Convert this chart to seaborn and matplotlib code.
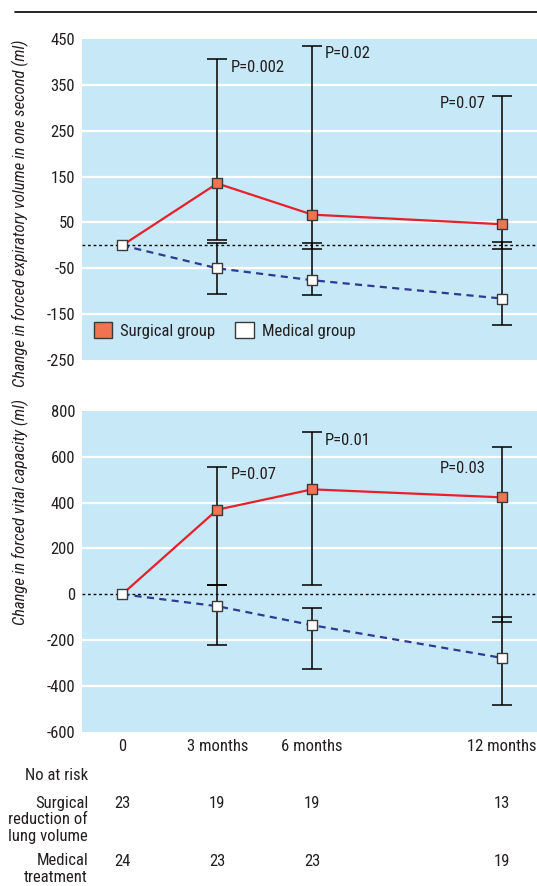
import numpy as np
import pandas as pd
import matplotlib
matplotlib.use("Agg")
import matplotlib.pyplot as plt
import matplotlib.transforms as mtransforms
from matplotlib.lines import Line2D
from matplotlib.patches import Patch
from matplotlib import font_manager as fm
import seaborn as sns

# ---------------- data ----------------
months = [0, 3, 6, 12]
tick_labels = ["0", "3 months", "6 months", "12 months"]

fev_surg = [0, 135, 67, 46]
fev_surg_lo = [0, 12, -7, -7]
fev_surg_hi = [0, 407, 435, 326]
fev_med = [0, -50, -76, -116]
fev_med_lo = [0, -107, -108, -174]
fev_med_hi = [0, 6, 5, 7]
fev_p_text = ["P=0.002", "P=0.02", "P=0.07"]
fev_p_x = [3.42, 6.39, 11.49]
fev_p_y = [388, 419, 310]

fvc_surg = [0, 369, 458, 423]
fvc_surg_lo = [0, 41, 39, -120]
fvc_surg_hi = [0, 557, 707, 641]
fvc_med = [0, -52, -135, -278]
fvc_med_lo = [0, -222, -328, -484]
fvc_med_hi = [0, 40, -61, -100]
fvc_p_text = ["P=0.07", "P=0.01", "P=0.03"]
fvc_p_x = [3.42, 6.39, 11.49]
fvc_p_y = [523, 672, 548]

groups = ["Surgical group", "Medical group"]
risk_header = "No at risk"
risk_surg_label = ["Surgical", "reduction of", "lung volume"]
risk_med_label = ["Medical", "treatment"]
risk_surg = [23, 19, 19, 13]
risk_med = [24, 23, 23, 19]

fev_ylabel = "Change in forced expiratory volume in one second (ml)"
fvc_ylabel = "Change in forced vital capacity (ml)"
fev_yticks = [450, 350, 250, 150, 50, -50, -150, -250]
fvc_yticks = [800, 600, 400, 200, 0, -200, -400, -600]

# ---------------- style ----------------
sns.set_theme(style="white")
names = {f.name for f in fm.fontManager.ttflist}
fam = "DejaVu Sans"
for n in ["Liberation Sans Narrow", "Arial Narrow", "Roboto Condensed", "Liberation Sans"]:
    if n in names:
        fam = n
        break
plt.rcParams["font.family"] = [fam, "DejaVu Sans"]
plt.rcParams["axes.unicode_minus"] = False

BG = "#C7E8F7"
RED = "#E8202A"
SURG_FILL = "#F07452"
NAVY = "#2E3A92"
TXT = "#231F20"
FS = 12

W, H = 537, 886
fig = plt.figure(figsize=(W / 100, H / 100), dpi=100)


def fy(py):
    return 1 - py / H


def fx(px):
    return px / W


ax1 = fig.add_axes([fx(82), fy(360), 1 - fx(82), (360 - 39) / H])
ax2 = fig.add_axes([fx(82), fy(731.7), 1 - fx(82), (731.7 - 411) / H])


def draw(ax, surg, slo, shi, med, mlo, mhi, ylim, yticks, ptext, px, py):
    ax.set_facecolor(BG)
    for s in ax.spines.values():
        s.set_visible(False)
    ax.set_xlim(-1.27, 13.1)
    ax.set_ylim(*ylim)
    for t in yticks:
        if ylim[0] < t < ylim[1] and t != 0:
            ax.axhline(t, color="white", lw=1.6, zorder=1)
    ax.axhline(0, color="black", lw=1.0, ls=(0, (2, 2)), zorder=2)
    df = pd.DataFrame({
        "month": months * 2,
        "value": list(surg) + list(med),
        "group": [groups[0]] * 4 + [groups[1]] * 4,
    })
    sns.lineplot(data=df[df.group == groups[0]], x="month", y="value", ax=ax,
                 color=RED, lw=1.6, legend=False, zorder=3)
    sns.lineplot(data=df[df.group == groups[1]], x="month", y="value", ax=ax,
                 color=NAVY, lw=1.6, legend=False, zorder=3)
    ax.lines[-1].set_dashes([3.2, 2.4])
    m = np.array(months[1:])
    s = np.array(surg[1:])
    ax.errorbar(m, s, yerr=[s - np.array(slo[1:]), np.array(shi[1:]) - s], fmt="none",
                ecolor="black", elinewidth=1.1, capsize=7, capthick=1.1, zorder=4)
    md = np.array(med[1:])
    ax.errorbar(m, md, yerr=[md - np.array(mlo[1:]), np.array(mhi[1:]) - md], fmt="none",
                ecolor="black", elinewidth=1.1, capsize=7, capthick=1.1, zorder=4)
    sns.scatterplot(x=months[1:], y=surg[1:], ax=ax, marker="s", s=55,
                    color=SURG_FILL, edgecolor="#3a3a3a", linewidth=1.0, zorder=5, legend=False)
    sns.scatterplot(x=months, y=med, ax=ax, marker="s", s=55,
                    color="white", edgecolor="#3a3a3a", linewidth=1.0, zorder=5, legend=False)
    for i, (t, x, y) in enumerate(zip(ptext, px, py)):
        ha = "right" if i == len(ptext) - 1 else "left"
        ax.text(x, y, t, ha=ha, va="center", fontsize=FS, color=TXT, zorder=6)
    ax.set_yticks(yticks)
    ax.set_xticks(months)
    ax.tick_params(axis="y", length=0, pad=5, labelsize=FS, labelcolor=TXT)
    ax.tick_params(axis="x", direction="in", length=4, width=1.5, color="white",
                   labelsize=FS, labelcolor=TXT, pad=5)
    ax.set_xlabel("")
    ax.set_ylabel("")


draw(ax1, fev_surg, fev_surg_lo, fev_surg_hi, fev_med, fev_med_lo, fev_med_hi,
     (-250, 450), fev_yticks, fev_p_text, fev_p_x, fev_p_y)
draw(ax2, fvc_surg, fvc_surg_lo, fvc_surg_hi, fvc_med, fvc_med_lo, fvc_med_hi,
     (-600, 800), fvc_yticks, fvc_p_text, fvc_p_x, fvc_p_y)

ax1.set_xticklabels([])
ax2.set_xticklabels(tick_labels)

handles = [Patch(facecolor=SURG_FILL, edgecolor="#3a3a3a", lw=1.0),
           Patch(facecolor="white", edgecolor="#3a3a3a", lw=1.0)]
ax1.legend(handles, groups, loc="lower left", bbox_to_anchor=(0.0, 0.03), ncol=2,
           frameon=False, fontsize=FS, handlelength=1.1, handleheight=1.1,
           handletextpad=0.5, columnspacing=1.2, labelcolor=TXT, borderaxespad=0.3)

fig.text(fx(20), fy(213), fev_ylabel, rotation=90, ha="center", va="center",
         fontsize=12, style="italic", color=TXT)
fig.text(fx(20), fy(512), fvc_ylabel, rotation=90, ha="center", va="center",
         fontsize=12, style="italic", color=TXT)

fig.add_artist(Line2D([fx(15), 1], [fy(11.5), fy(11.5)], color="black", lw=1.2,
                      transform=fig.transFigure))

trans = mtransforms.blended_transform_factory(ax2.transData, fig.transFigure)
fig.text(fx(88), fy(775), risk_header, ha="right", va="center", fontsize=FS, color=TXT)
fig.text(fx(88), fy(820), "\n".join(risk_surg_label), ha="right", va="center",
         fontsize=FS, color=TXT, linespacing=1.1, multialignment="right")
fig.text(fx(88), fy(869), "\n".join(risk_med_label), ha="right", va="center",
         fontsize=FS, color=TXT, linespacing=1.1, multialignment="right")
for m, n in zip(months, risk_surg):
    fig.text(m, fy(804), str(n), transform=trans, ha="center", va="center", fontsize=FS, color=TXT)
for m, n in zip(months, risk_med):
    fig.text(m, fy(861), str(n), transform=trans, ha="center", va="center", fontsize=FS, color=TXT)

fig.savefig("out.png", dpi=100)
